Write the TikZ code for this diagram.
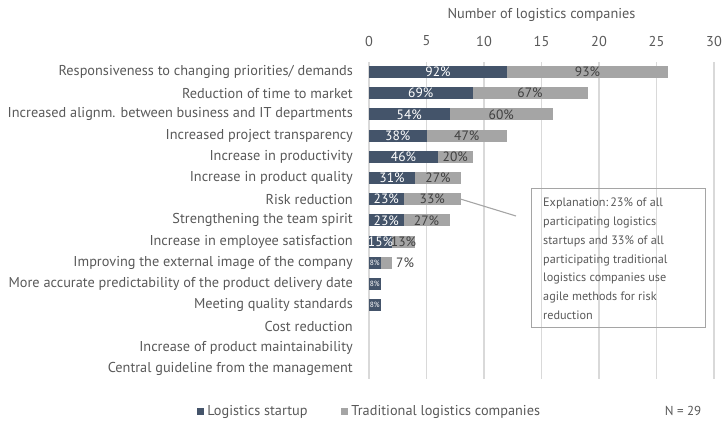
\documentclass[tikz,border=0pt]{standalone}
\usepackage{fontspec}
\setmainfont{PT Sans}
\usepackage{tikz}
\usetikzlibrary{positioning}
\definecolor{startup}{HTML}{44546A}
\definecolor{tradit}{HTML}{A5A5A5}
\definecolor{txtgrey}{HTML}{595959}
\definecolor{pctgrey}{HTML}{404040}
\definecolor{gridgrey}{HTML}{D9D9D9}
\newcommand{\uw}{11.5}

\begin{document}
\begin{tikzpicture}[x=1pt, y=-1pt,
	font=\fontsize{14.3}{17}\selectfont, text=txtgrey,
	catlabel/.style={anchor=east, inner sep=0pt},
	ticklabel/.style={inner sep=0pt},
	gridline/.style={gridgrey, line width=1.4pt},
	pctdark/.style={inner sep=0pt, text=white, font=\fontsize{13.5}{15}\selectfont},
	pctlight/.style={inner sep=0pt, text=pctgrey, font=\fontsize{13.5}{15}\selectfont},
	pcttiny/.style={inner sep=0pt, text=white, font=\fontsize{7.5}{8}\selectfont},
	keybox/.style={minimum size=7pt, inner sep=0pt},
	explbox/.style={draw=tradit, line width=1.1pt, minimum width=174pt,
		minimum height=139pt, inner sep=0pt},
	expltext/.style={align=left, inner sep=0pt, font=\fontsize{12.2}{18.7}\selectfont},
	callout/.style={tradit, line width=1.1pt}]

	\useasboundingbox (0,0) rectangle (722,420);

	% ---------------------
	% Axis title, ticks & grid
	\node[ticklabel] (axisTitle) at (541.5,15) {Number of logistics companies};
	\foreach \v in {0,5,...,30}{
		\draw[gridline] ({369+\v*\uw},62) -- ({369+\v*\uw},379);
		\node[ticklabel] (tick\v) at ({369+\v*\uw},41) {\v};
	}

	% ---------------------
	% Categories
	\foreach \lab [count=\i] in {
		Responsiveness to changing priorities/ demands,
		Reduction of time to market,
		Increased alignm. between business and IT departments,
		Increased project transparency,
		Increase in productivity,
		Increase in product quality,
		Risk reduction,
		Strengthening the team spirit,
		Increase in employee satisfaction,
		Improving the external image of the company,
		More accurate predictability of the product delivery date,
		Meeting quality standards,
		Cost reduction,
		Increase of product maintainability,
		Central guideline from the management}
		\node[catlabel] (cat\i) at (353,{72+21.2*(\i-1)}) {\lab};

	% ---------------------
	% Bars (startups | traditional)
	\foreach \i/\s/\t/\ps/\pt in {1/12/14/92/93, 2/9/10/69/67, 3/7/9/54/60,
		4/5/7/38/47, 5/6/3/46/20, 6/4/4/31/27, 7/3/5/23/33, 8/3/4/23/27, 9/2/2/15/13}{
		\pgfmathsetmacro{\yc}{72+21.2*(\i-1)}
		\fill[startup] (369,\yc-6) rectangle +({\s*\uw},12);
		\fill[tradit] ({369+\s*\uw},\yc-6) rectangle +({\t*\uw},12);
		\node[pctdark] (ps\i) at ({369+\s*\uw/2},\yc) {\ps\%};
		\node[pctlight] (pt\i) at ({369+\s*\uw+\t*\uw/2},\yc) {\pt\%};
	}
	% small rows
	\fill[startup] (369,{72+21.2*9-6}) rectangle +(\uw,12);
	\fill[tradit] ({369+\uw},{72+21.2*9-6}) rectangle +(\uw,12);
	\node[pcttiny] (ps10) at ({369+\uw/2},{72+21.2*9}) {8\%};
	\node[pctlight, anchor=west] (pt10) at ({369+2*\uw+4},{72+21.2*9}) {7\%};
	\fill[startup] (369,{72+21.2*10-6}) rectangle +(\uw,12);
	\node[pcttiny] (ps11) at ({369+\uw/2},{72+21.2*10}) {8\%};
	\fill[startup] (369,{72+21.2*11-6}) rectangle +(\uw,12);
	\node[pcttiny] (ps12) at ({369+\uw/2},{72+21.2*11}) {8\%};

	% ---------------------
	% Explanation
	\node[explbox, anchor=north west] (expl) at (531,188) {};
	\node[expltext, anchor=north west] (explText) at (543,198)
		{Explanation:\,23\% of all\\participating logistics\\startups and 33\% of all\\participating traditional\\logistics companies use\\agile methods for risk\\reduction};
	\coordinate (riskEnd) at ({369+8*\uw},{72+21.2*6});
	\coordinate (calloutEnd) at (516,216);
	\draw[callout] (riskEnd) -- (calloutEnd);

	% ---------------------
	% Legend
	\node[keybox, fill=startup] (keyStartup) at (200.5,411.5) {};
	\node[right=3pt of keyStartup, inner sep=0pt] (keyStartupText) {Logistics startup};
	\node[keybox, fill=tradit] (keyTradit) at (344.5,411.5) {};
	\node[right=3pt of keyTradit, inner sep=0pt] (keyTraditText) {Traditional logistics companies};
	\node[inner sep=0pt, font=\fontsize{13}{15}\selectfont] (sampleSize) at (683,411) {N = 29};

\end{tikzpicture}
\end{document}
